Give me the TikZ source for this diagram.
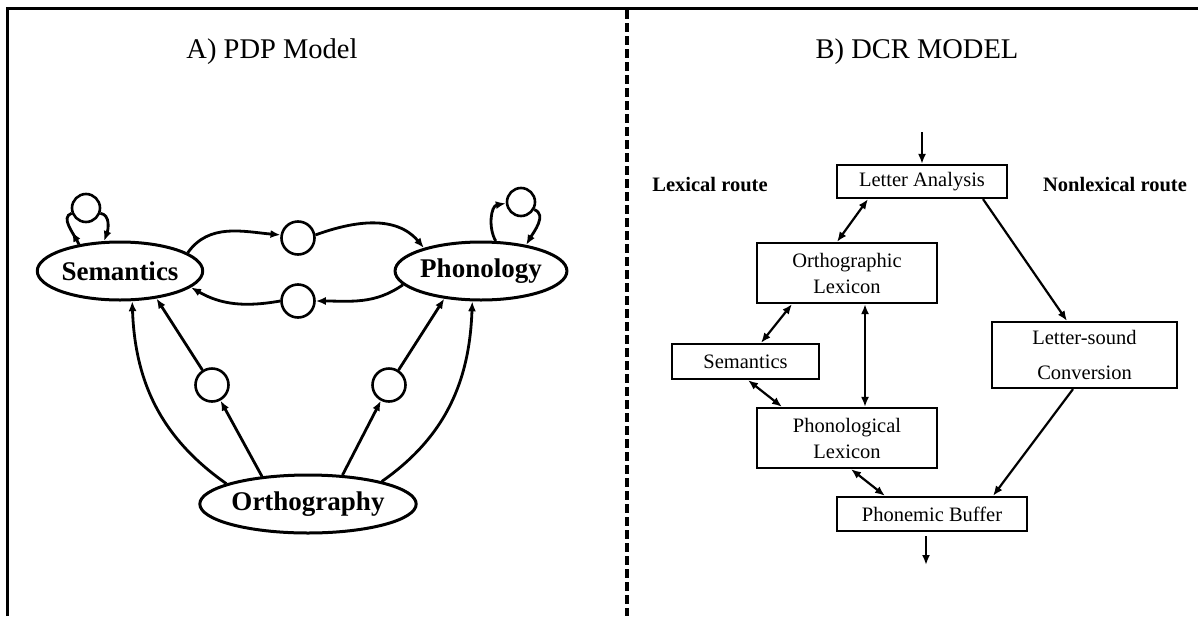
\documentclass[tikz,border=0pt]{standalone}
\usepackage{fontspec}
\setmainfont{Liberation Serif}
\usetikzlibrary{shapes.geometric,arrows.meta,decorations.markings}

\begin{document}
\begin{tikzpicture}[x=1pt,y=1pt,
  layer/.style={ellipse,draw,line width=3pt,inner sep=0pt,minimum width=164pt,minimum height=58pt,font=\fontsize{27}{30}\selectfont\bfseries},
  unit/.style={circle,draw,line width=2.6pt,inner sep=0pt,minimum size=33pt},
  cleanup/.style={unit,minimum size=28pt},
  arr/.style={line width=2.8pt,-{Latex[length=10pt,width=8pt]}},
  midarr/.style={line width=2.8pt,postaction={decorate},decoration={markings,mark=at position 0.4 with {\arrow{Latex[length=10pt,width=8pt]}}}},
  stage/.style={rectangle,draw,line width=2.2pt,inner sep=0pt,align=center,font=\fontsize{20.5}{26}\selectfont},
  both/.style={line width=2.2pt,{Latex[length=10pt,width=8pt]}-{Latex[length=10pt,width=8pt]}},
  one/.style={line width=2.2pt,-{Latex[length=10pt,width=8pt]}},
  title/.style={font=\fontsize{28.5}{32}\selectfont},
  route/.style={font=\fontsize{20.5}{24}\selectfont\bfseries}
]
\useasboundingbox (0,0) rectangle (1198,-616);

% frame
\draw[line width=3.5pt] (7.5,-616) -- (7.5,-8.5) -- (1198,-8.5);
\draw[line width=4pt,dash pattern=on 9pt off 4pt] (627,-10) -- (627,-616);

\node[title] (titleA) at (272,-52) {A) PDP Model};
\node[title] (titleB) at (917,-52) {B) DCR MODEL};

% PDP model
\node[layer] (sem) at (120,-271) {Semantics};
\node[layer,minimum width=162pt] (pho) at (481,-271) {Phonology};
\node[layer,minimum width=201pt] (orth) at (308,-504) {Orthography};
\node[unit] (hidTop) at (298,-238) {};
\node[unit] (hidBot) at (298,-301) {};
\node[unit] (hidL) at (212,-385) {};
\node[unit] (hidR) at (389,-385) {};
\node[cleanup] (cleanS) at (86,-208) {};
\node[cleanup] (cleanP) at (521,-202) {};

\draw[arr] (sem.15) to[out=55,in=175] (hidTop.170);
\draw[arr] (hidTop.10) to[out=20,in=130] (pho.158);
\draw[arr] (pho.190) to[out=215,in=0] (hidBot.east);
\draw[arr] (hidBot.west) to[out=190,in=-30] (sem.-13);
\draw[arr] (orth.149) -- (hidL);
\draw[arr] (hidL) -- (sem.-37);
\draw[arr] (orth.40) -- (hidR);
\draw[arr] (hidR) -- (pho.-143);
\draw[arr] (orth.166) to[out=145,in=-88] (sem.-68);
\draw[arr] (orth.17) to[out=35,in=-92] (pho.-106);
\draw[midarr] (sem.147) to[out=115,in=200] (cleanS.200);
\draw[arr] (cleanS.-20) to[out=-10,in=70] (sem.118);
\draw[arr] (pho.64) to[out=120,in=190] (cleanP.185);
\draw[arr] (cleanP.-30) to[out=-20,in=60] (pho.30);

% DCR model
\node[route] (lexR) at (710,-185) {Lexical route};
\node[route] (nonlexR) at (1115,-185) {Nonlexical route};
\node[stage,minimum width=170pt,minimum height=33pt] (letters) at (922,-181.5) {Letter Analysis};
\node[stage,minimum width=180pt,minimum height=60pt] (orthLex) at (847,-273) {Orthographic\\Lexicon};
\node[stage,minimum width=147pt,minimum height=35pt] (semB) at (745.5,-361.5) {Semantics};
\node[stage,minimum width=180pt,minimum height=60pt] (phonLex) at (847,-438) {Phonological\\Lexicon};
\node[stage,minimum width=185pt,minimum height=66pt] (lsc) at (1084.5,-355) {Letter-sound\\[9pt]Conversion};
\node[stage,minimum width=190pt,minimum height=34pt] (buf) at (932,-514) {Phonemic Buffer};
\coordinate (inTop) at (922,-132);
\coordinate (outEnd) at (926,-565);

\draw[one] (inTop) -- (letters);
\draw[one,shorten <=4pt] (buf.south -| outEnd) -- (outEnd);
\draw[both] ([xshift=-54pt]letters.south) -- ([xshift=-10pt]orthLex.north);
\draw[both] ([xshift=-55pt]orthLex.south) -- ([xshift=15.5pt]semB.north);
\draw[both] ([xshift=18pt]orthLex.south) -- ([xshift=18pt]phonLex.north);
\draw[both] ([xshift=2.5pt]semB.south) -- ([xshift=-65pt]phonLex.north);
\draw[both] ([xshift=4pt]phonLex.south) -- ([xshift=-47pt]buf.north);
\draw[one] ([xshift=61pt]letters.south) -- ([xshift=-17.5pt]lsc.north);
\draw[one] ([xshift=-11.5pt]lsc.south) -- ([xshift=61pt]buf.north);
\end{tikzpicture}
\end{document}
